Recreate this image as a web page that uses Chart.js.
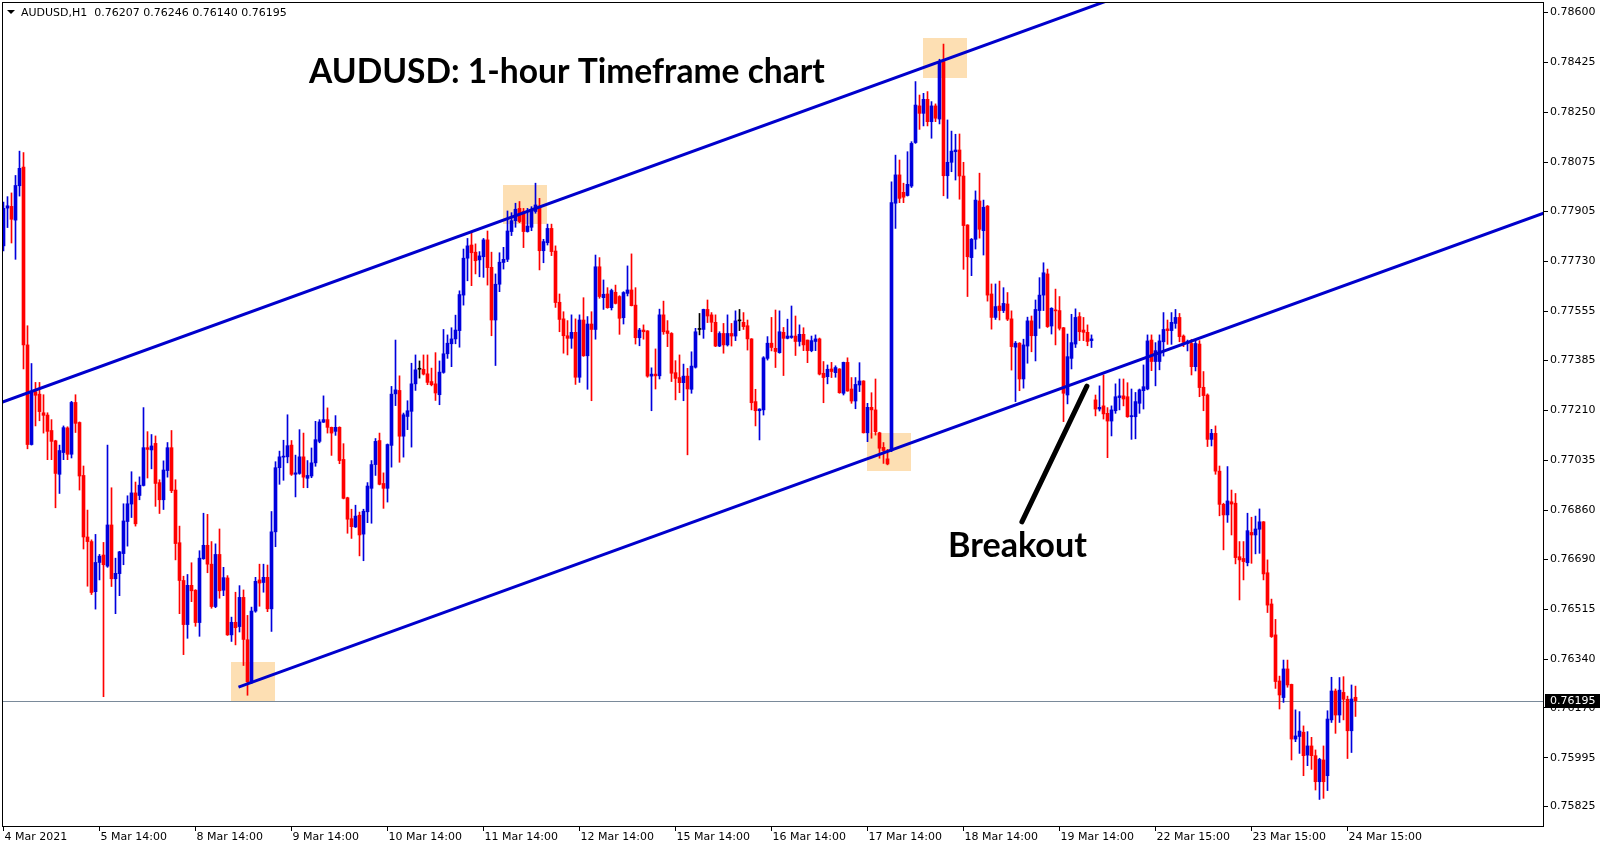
<!DOCTYPE html>
<html><head><meta charset="utf-8">
<script src="https://cdn.jsdelivr.net/npm/chart.js@4.4.0/dist/chart.umd.min.js"></script>
<style>html,body{margin:0;padding:0;background:#fff;overflow:hidden}canvas{display:block}</style>
</head><body>
<canvas id="c" width="1607" height="850"></canvas>
<script>
// ---- hourly candles, bar index 0 = 4 Mar 2021 14:00 ----
const opens = [
0.77784,0.77916,0.77922,0.77874,0.77994,0.78059,0.77438,0.77090,0.77275,0.77266,
0.77201,0.77193,0.77139,0.77103,0.76986,0.77062,0.77148,0.77056,0.77237,0.77167,
0.76982,0.76767,0.76751,0.76576,0.76678,0.76704,0.76665,0.76809,0.76621,0.76639,
0.76709,0.76821,0.76882,0.76921,0.76912,0.76947,0.77079,0.77071,0.77094,0.76957,
0.76897,0.76999,0.77079,0.76931,0.76747,0.76615,0.76461,0.76598,0.76581,0.76468,
0.76691,0.76738,0.76672,0.76524,0.76706,0.76581,0.76624,0.76425,0.76469,0.76454,
0.76556,0.76408,0.76261,0.76508,0.76617,0.76608,0.76626,0.76516,0.76785,0.77009,
0.77046,0.77047,0.77088,0.76986,0.76989,0.77047,0.76972,0.76980,0.77026,0.77101,
0.77168,0.77177,0.77150,0.77136,0.77150,0.77038,0.76904,0.76831,0.76802,0.76843,
0.76777,0.76855,0.76937,0.77020,0.77104,0.76954,0.76937,0.77087,0.77267,0.77279,
0.77119,0.77188,0.77206,0.77302,0.77353,0.77353,0.77337,0.77310,0.77302,0.77264,
0.77342,0.77407,0.77442,0.77459,0.77488,0.77612,0.77741,0.77787,0.77762,0.77735,
0.77746,0.77805,0.77709,0.77525,0.77650,0.77726,0.77737,0.77834,0.77872,0.77915,
0.77904,0.77834,0.77849,0.77904,0.77923,0.77767,0.77795,0.77845,0.77766,0.77587,
0.77529,0.77470,0.77461,0.77482,0.77325,0.77525,0.77400,0.77511,0.77492,0.77711,
0.77603,0.77616,0.77568,0.77622,0.77607,0.77533,0.77618,0.77630,0.77577,0.77463,
0.77490,0.77487,0.77329,0.77336,0.77330,0.77543,0.77487,0.77478,0.77341,0.77324,
0.77306,0.77329,0.77283,0.77360,0.77492,0.77492,0.77562,0.77543,0.77517,0.77434,
0.77478,0.77438,0.77478,0.77469,0.77522,0.77517,0.77505,0.77459,0.77240,0.77208,
0.77211,0.77391,0.77444,0.77426,0.77411,0.77482,0.77461,0.77464,0.77469,0.77450,
0.77475,0.77455,0.77418,0.77450,0.77459,0.77339,0.77327,0.77354,0.77341,0.77354,
0.77269,0.77377,0.77284,0.77242,0.77298,0.77312,0.77131,0.77220,0.77211,0.77131,
0.77080,0.77040,0.77069,0.77933,0.78032,0.77971,0.77960,0.77993,0.78145,0.78273,
0.78247,0.78296,0.78218,0.78273,0.78227,0.78428,0.78029,0.78076,0.78113,0.78119,
0.78028,0.77857,0.77743,0.77807,0.77941,0.77837,0.77923,0.77616,0.77534,0.77574,
0.77558,0.77581,0.77529,0.77430,0.77444,0.77319,0.77434,0.77522,0.77470,0.77558,
0.77612,0.77686,0.77504,0.77560,0.77558,0.77498,0.77263,0.77391,0.77441,0.77537,
0.77490,0.77482,0.77453,0.77246,0.77214,0.77225,0.77199,0.77172,0.77208,0.77254,
0.77260,0.77257,0.77187,0.77187,0.77234,0.77278,0.77284,0.77455,0.77380,0.77380,
0.77449,0.77494,0.77488,0.77513,0.77534,0.77469,0.77443,0.77443,0.77362,0.77441,
0.77290,0.77263,0.77108,0.77129,0.76997,0.76881,0.76844,0.76890,0.76885,0.76698,
0.76692,0.76677,0.76783,0.76774,0.76794,0.76820,0.76642,0.76533,0.76425,0.76264,
0.76206,0.76306,0.76252,0.76061,0.76070,0.76085,0.76005,0.76037,0.76003,0.75912,
0.75988,0.75933,0.76128,0.76229,0.76145,0.76224,0.76200,0.76090,0.76207];
const highs = [
0.77937,0.77956,0.77969,0.78030,0.78115,0.78110,0.77505,0.77373,0.77307,0.77307,
0.77264,0.77201,0.77177,0.77105,0.77088,0.77155,0.77152,0.77241,0.77264,0.77169,
0.77015,0.76861,0.76757,0.76776,0.76706,0.76748,0.77088,0.76939,0.76693,0.76717,
0.76883,0.76911,0.76995,0.76959,0.76977,0.77219,0.77135,0.77125,0.77120,0.76967,
0.77033,0.77097,0.77139,0.76967,0.76805,0.76630,0.76636,0.76677,0.76583,0.76719,
0.76850,0.76846,0.76751,0.76743,0.76795,0.76661,0.76632,0.76487,0.76574,0.76597,
0.76582,0.76493,0.76522,0.76626,0.76672,0.76672,0.76669,0.76856,0.77030,0.77067,
0.77105,0.77194,0.77104,0.77053,0.77142,0.77130,0.77034,0.77078,0.77171,0.77177,
0.77260,0.77218,0.77151,0.77191,0.77152,0.77093,0.76906,0.76864,0.76878,0.76854,
0.76864,0.76957,0.77034,0.77111,0.77130,0.76991,0.77092,0.77293,0.77455,0.77330,
0.77200,0.77243,0.77374,0.77403,0.77382,0.77403,0.77403,0.77357,0.77411,0.77382,
0.77492,0.77473,0.77498,0.77542,0.77627,0.77773,0.77810,0.77834,0.77791,0.77764,
0.77810,0.77836,0.77762,0.77686,0.77760,0.77779,0.77906,0.77900,0.77933,0.77939,
0.77915,0.77915,0.77921,0.78003,0.77950,0.77807,0.77860,0.77860,0.77784,0.77616,
0.77554,0.77523,0.77543,0.77529,0.77543,0.77603,0.77537,0.77554,0.77752,0.77743,
0.77665,0.77638,0.77633,0.77647,0.77610,0.77624,0.77714,0.77756,0.77638,0.77496,
0.77508,0.77488,0.77358,0.77424,0.77563,0.77591,0.77523,0.77481,0.77383,0.77403,
0.77371,0.77356,0.77414,0.77496,0.77548,0.77563,0.77595,0.77551,0.77543,0.77484,
0.77513,0.77543,0.77513,0.77557,0.77562,0.77551,0.77525,0.77460,0.77283,0.77215,
0.77397,0.77467,0.77534,0.77560,0.77557,0.77499,0.77528,0.77574,0.77539,0.77508,
0.77498,0.77455,0.77469,0.77473,0.77462,0.77380,0.77368,0.77377,0.77365,0.77355,
0.77378,0.77393,0.77324,0.77324,0.77376,0.77313,0.77234,0.77271,0.77319,0.77133,
0.77097,0.77073,0.78008,0.78101,0.78084,0.78003,0.78113,0.78148,0.78358,0.78311,
0.78317,0.78323,0.78288,0.78280,0.78436,0.78489,0.78224,0.78185,0.78174,0.78175,
0.78076,0.77858,0.77810,0.77976,0.78038,0.77944,0.77925,0.77651,0.77651,0.77661,
0.77638,0.77621,0.77557,0.77450,0.77446,0.77458,0.77535,0.77539,0.77595,0.77673,
0.77725,0.77703,0.77568,0.77633,0.77607,0.77499,0.77476,0.77545,0.77564,0.77551,
0.77534,0.77508,0.77473,0.77263,0.77295,0.77333,0.77219,0.77225,0.77302,0.77319,
0.77319,0.77306,0.77284,0.77272,0.77284,0.77368,0.77473,0.77473,0.77446,0.77473,
0.77551,0.77525,0.77551,0.77562,0.77548,0.77473,0.77455,0.77457,0.77455,0.77453,
0.77345,0.77267,0.77143,0.77155,0.77015,0.76885,0.77013,0.76931,0.76919,0.76751,
0.76751,0.76850,0.76836,0.76840,0.76865,0.76821,0.76687,0.76550,0.76479,0.76281,
0.76337,0.76337,0.76253,0.76163,0.76157,0.76107,0.76087,0.76067,0.76023,0.75994,
0.76037,0.76160,0.76277,0.76236,0.76276,0.76279,0.76211,0.76250,0.76246];
const lows = [
0.77766,0.77848,0.77794,0.77737,0.77958,0.77354,0.77075,0.77088,0.77155,0.77173,
0.77130,0.77037,0.77037,0.76869,0.76919,0.77037,0.77037,0.77043,0.77132,0.76931,
0.76725,0.76595,0.76566,0.76515,0.76617,0.76209,0.76661,0.76594,0.76499,0.76562,
0.76670,0.76735,0.76835,0.76805,0.76897,0.76945,0.76973,0.77005,0.76874,0.76849,
0.76863,0.76976,0.76922,0.76687,0.76499,0.76356,0.76413,0.76541,0.76455,0.76420,
0.76689,0.76642,0.76518,0.76520,0.76553,0.76562,0.76423,0.76402,0.76390,0.76435,
0.76318,0.76214,0.76255,0.76504,0.76525,0.76574,0.76506,0.76437,0.76733,0.76951,
0.76965,0.77026,0.76982,0.76907,0.76986,0.76939,0.76939,0.76974,0.77014,0.77096,
0.77167,0.77130,0.77052,0.77122,0.77023,0.76900,0.76780,0.76762,0.76800,0.76701,
0.76684,0.76817,0.76815,0.76982,0.76949,0.76867,0.76889,0.77011,0.77226,0.77028,
0.77046,0.77142,0.77081,0.77279,0.77322,0.77333,0.77299,0.77295,0.77244,0.77229,
0.77339,0.77391,0.77362,0.77442,0.77430,0.77577,0.77662,0.77645,0.77686,0.77676,
0.77674,0.77647,0.77470,0.77366,0.77624,0.77703,0.77729,0.77820,0.77849,0.77865,
0.77778,0.77832,0.77837,0.77898,0.77700,0.77725,0.77787,0.77750,0.77569,0.77484,
0.77409,0.77403,0.77426,0.77300,0.77307,0.77398,0.77283,0.77243,0.77458,0.77601,
0.77562,0.77566,0.77560,0.77581,0.77475,0.77511,0.77609,0.77574,0.77441,0.77435,
0.77458,0.77325,0.77208,0.77284,0.77319,0.77475,0.77432,0.77310,0.77246,0.77271,
0.77243,0.77054,0.77269,0.77357,0.77473,0.77461,0.77516,0.77484,0.77432,0.77432,
0.77409,0.77434,0.77434,0.77453,0.77488,0.77492,0.77420,0.77211,0.77155,0.77106,
0.77193,0.77385,0.77417,0.77359,0.77409,0.77331,0.77459,0.77461,0.77401,0.77434,
0.77418,0.77376,0.77414,0.77418,0.77333,0.77236,0.77302,0.77324,0.77325,0.77269,
0.77263,0.77276,0.77234,0.77215,0.77275,0.77130,0.77100,0.77112,0.77123,0.77042,
0.77024,0.77019,0.77065,0.77845,0.77935,0.77935,0.77958,0.77988,0.78142,0.78191,
0.78203,0.78203,0.78160,0.78218,0.78210,0.77959,0.77950,0.78043,0.78014,0.77947,
0.77702,0.77607,0.77680,0.77773,0.77811,0.77752,0.77591,0.77493,0.77527,0.77525,
0.77551,0.77523,0.77350,0.77240,0.77278,0.77287,0.77374,0.77414,0.77382,0.77496,
0.77558,0.77499,0.77476,0.77438,0.77490,0.77170,0.77232,0.77354,0.77429,0.77453,
0.77453,0.77435,0.77429,0.77190,0.77207,0.77179,0.77044,0.77120,0.77199,0.77211,
0.77225,0.77185,0.77108,0.77110,0.77199,0.77214,0.77281,0.77348,0.77295,0.77351,
0.77399,0.77440,0.77440,0.77496,0.77449,0.77432,0.77417,0.77333,0.77347,0.77257,
0.77208,0.77083,0.77085,0.76986,0.76841,0.76722,0.76818,0.76774,0.76673,0.76547,
0.76617,0.76666,0.76675,0.76708,0.76710,0.76617,0.76503,0.76416,0.76238,0.76166,
0.76189,0.76242,0.75988,0.76052,0.76011,0.75933,0.75968,0.75955,0.75883,0.75850,
0.75854,0.75881,0.76119,0.76081,0.76119,0.76128,0.75993,0.76014,0.76140];
const closes = [
0.77915,0.77924,0.77877,0.77995,0.78055,0.77438,0.77090,0.77273,0.77262,0.77205,
0.77192,0.77136,0.77101,0.76989,0.77069,0.77149,0.77056,0.77237,0.77164,0.76980,
0.76767,0.76751,0.76573,0.76678,0.76700,0.76670,0.76809,0.76621,0.76640,0.76715,
0.76823,0.76883,0.76921,0.76813,0.76948,0.77079,0.77073,0.77085,0.76954,0.76897,
0.77001,0.77079,0.76929,0.76744,0.76615,0.76461,0.76598,0.76579,0.76468,0.76693,
0.76738,0.76672,0.76524,0.76706,0.76579,0.76625,0.76425,0.76469,0.76450,0.76556,
0.76409,0.76261,0.76508,0.76612,0.76606,0.76626,0.76516,0.76785,0.77009,0.77047,
0.77049,0.77086,0.76986,0.76991,0.77047,0.76976,0.76982,0.77026,0.77107,0.77169,
0.77177,0.77150,0.77130,0.77150,0.77034,0.76902,0.76829,0.76803,0.76840,0.76774,
0.76857,0.76945,0.77020,0.77101,0.76951,0.76937,0.77090,0.77266,0.77281,0.77119,
0.77194,0.77208,0.77302,0.77351,0.77353,0.77336,0.77307,0.77299,0.77270,0.77343,
0.77407,0.77444,0.77459,0.77490,0.77614,0.77741,0.77784,0.77760,0.77732,0.77749,
0.77805,0.77708,0.77525,0.77650,0.77727,0.77737,0.77836,0.77872,0.77912,0.77869,
0.77834,0.77853,0.77912,0.77927,0.77767,0.77799,0.77845,0.77764,0.77586,0.77527,
0.77470,0.77461,0.77482,0.77325,0.77525,0.77400,0.77511,0.77492,0.77711,0.77607,
0.77615,0.77568,0.77628,0.77583,0.77531,0.77621,0.77630,0.77575,0.77463,0.77490,
0.77484,0.77329,0.77336,0.77330,0.77543,0.77484,0.77478,0.77339,0.77321,0.77306,
0.77329,0.77284,0.77364,0.77484,0.77492,0.77562,0.77539,0.77517,0.77434,0.77478,
0.77438,0.77478,0.77469,0.77522,0.77522,0.77502,0.77459,0.77236,0.77208,0.77214,
0.77393,0.77444,0.77429,0.77415,0.77484,0.77461,0.77469,0.77469,0.77450,0.77475,
0.77438,0.77418,0.77453,0.77459,0.77336,0.77324,0.77353,0.77345,0.77359,0.77271,
0.77377,0.77277,0.77242,0.77300,0.77312,0.77131,0.77220,0.77211,0.77135,0.77077,
0.77069,0.77022,0.77935,0.78032,0.77950,0.77954,0.77999,0.78142,0.78276,0.78247,
0.78296,0.78218,0.78273,0.78230,0.78428,0.78029,0.78076,0.78115,0.78119,0.78028,
0.77855,0.77746,0.77807,0.77944,0.77842,0.77919,0.77612,0.77534,0.77572,0.77558,
0.77583,0.77528,0.77432,0.77444,0.77319,0.77438,0.77522,0.77470,0.77562,0.77612,
0.77690,0.77502,0.77566,0.77557,0.77496,0.77269,0.77397,0.77446,0.77534,0.77484,
0.77482,0.77450,0.77459,0.77214,0.77220,0.77197,0.77172,0.77211,0.77257,0.77260,
0.77249,0.77187,0.77191,0.77240,0.77281,0.77292,0.77452,0.77380,0.77418,0.77452,
0.77492,0.77488,0.77517,0.77534,0.77467,0.77447,0.77449,0.77362,0.77443,0.77289,
0.77261,0.77108,0.77129,0.76997,0.76881,0.76844,0.76893,0.76882,0.76695,0.76687,
0.76681,0.76789,0.76774,0.76795,0.76820,0.76638,0.76529,0.76419,0.76262,0.76215,
0.76306,0.76250,0.76061,0.76072,0.76089,0.76003,0.76037,0.76003,0.75912,0.75990,
0.75912,0.76131,0.76229,0.76145,0.76232,0.76200,0.76090,0.76201,0.76195];

const xTickBars = [0,24,48,72,96,120,144,168,192,216,240,264,288,312,336];
const xTickLabels = ['4 Mar 2021','5 Mar 14:00','8 Mar 14:00','9 Mar 14:00','10 Mar 14:00','11 Mar 14:00','12 Mar 14:00','15 Mar 14:00','16 Mar 14:00','17 Mar 14:00','18 Mar 14:00','19 Mar 14:00','22 Mar 15:00','23 Mar 15:00','24 Mar 15:00'];
const yTickLabels = ['0.78600','0.78425','0.78250','0.78075','0.77905','0.77730','0.77555','0.77385','0.77210','0.77035','0.76860','0.76690','0.76515','0.76340','0.76170','0.75995','0.75825'];

// trend channel anchors (bar index, price)
const upperChannel = [{x:-1, y:0.772346},{x:280, y:0.786609}];
const lowerChannel = [{x:58.75, y:0.762422},{x:386, y:0.779032}];
const breakoutPointer = [{x:254.6, y:0.76820},{x:270.85, y:0.77294}];
// highlighted touch zones (bar range, price range)
const zoneX0 = [229.9, 124.9, 215.9, 56.9];
const zoneX1 = [240.9, 135.9, 226.9, 67.9];
const zoneLo = [0.78370, 0.77860, 0.76998, 0.76194];
const zoneHi = [0.78510, 0.77997, 0.77130, 0.76330];

const lastPrice = 0.76195;
const headerText = 'AUDUSD,H1  0.76207 0.76246 0.76140 0.76195';
const titleText = 'AUDUSD: 1-hour Timeframe chart';
const noteText = 'Breakout';

const UP = '#0000dd', DOWN = '#ff0000', DOJI = '#000000', LINE = '#0000cc';
const idx = opens.map((_, i) => i);
const colorOf = i => closes[i] > opens[i] ? UP : (closes[i] < opens[i] ? DOWN : DOJI);
const FONT = 'DejaVu Sans';

const decor = {
  id: 'decor',
  beforeDatasetsDraw(chart) {
    const {ctx, chartArea: a, scales: {x, y}} = chart;
    ctx.save();
    ctx.beginPath(); ctx.rect(a.left, a.top, a.right - a.left, a.bottom - a.top); ctx.clip();
    ctx.fillStyle = '#fddfb3';
    for (let k = 0; k < zoneX0.length; k++) {
      const x0 = x.getPixelForValue(zoneX0[k]), x1 = x.getPixelForValue(zoneX1[k]);
      const y0 = y.getPixelForValue(zoneHi[k]), y1 = y.getPixelForValue(zoneLo[k]);
      ctx.fillRect(Math.round(x0), Math.round(y0), Math.round(x1 - x0), Math.round(y1 - y0));
    }
    const py = Math.round(y.getPixelForValue(lastPrice)) + 0.5;
    ctx.strokeStyle = '#7a8a9a'; ctx.lineWidth = 1;
    ctx.beginPath(); ctx.moveTo(a.left, py); ctx.lineTo(a.right, py); ctx.stroke();
    ctx.restore();
  },
  afterDraw(chart) {
    const {ctx, chartArea: a, scales: {y}} = chart;
    ctx.save();
    // frame
    ctx.strokeStyle = '#000'; ctx.lineWidth = 1;
    ctx.strokeRect(a.left - 0.5, a.top - 0.5, a.right - a.left + 1, a.bottom - a.top + 1);
    // header
    ctx.fillStyle = '#000';
    ctx.beginPath(); ctx.moveTo(7, 10); ctx.lineTo(15, 10); ctx.lineTo(11, 14); ctx.closePath(); ctx.fill();
    ctx.font = '11px "' + FONT + '"'; ctx.textBaseline = 'middle'; ctx.textAlign = 'left';
    ctx.fillText(headerText, 21, 13);
    // title
    ctx.textBaseline = 'alphabetic';
    ctx.font = 'bold 100px Lato';
    let w = ctx.measureText(titleText).width;
    ctx.font = 'bold ' + (100 * 516 / w).toFixed(2) + 'px Lato';
    ctx.fillText(titleText, 309, 83);
    ctx.font = 'bold 100px Lato';
    w = ctx.measureText(noteText).width;
    ctx.font = 'bold ' + (100 * 139 / w).toFixed(2) + 'px Lato';
    ctx.fillText(noteText, 948, 557);
    // last price tag
    const py = Math.round(y.getPixelForValue(lastPrice));
    ctx.fillStyle = '#000';
    ctx.fillRect(a.right + 2, py - 7, 55, 14);
    ctx.fillStyle = '#fff';
    ctx.font = '11px "' + FONT + '"'; ctx.textBaseline = 'middle';
    ctx.fillText(lastPrice.toFixed(5), a.right + 7, py + 0.5);
    ctx.restore();
  }
};

new Chart(document.getElementById('c'), {
  type: 'bar',
  data: {
    datasets: [
      {type: 'line', data: upperChannel, borderColor: LINE, borderWidth: 3, pointRadius: 0, fill: false, order: 0, clip: 0},
      {type: 'line', data: lowerChannel, borderColor: LINE, borderWidth: 3, pointRadius: 0, fill: false, order: 0, clip: 0},
      {type: 'line', data: breakoutPointer, borderColor: '#000', borderWidth: 5, borderCapStyle: 'round', pointRadius: 0, fill: false, order: 0, clip: 0},
      {type: 'bar', data: idx.map(i => ({x: i, y: [lows[i], highs[i]]})), backgroundColor: idx.map(colorOf), barThickness: 1, grouped: false, order: 2},
      {type: 'bar', data: idx.map(i => ({x: i, y: [opens[i], closes[i]]})), backgroundColor: idx.map(colorOf), barThickness: 3, minBarLength: 1, grouped: false, order: 1}
    ]
  },
  options: {
    responsive: false, animation: false, devicePixelRatio: 1,
    layout: {padding: {left: 3, top: 3, right: 0, bottom: 0}},
    plugins: {legend: {display: false}, tooltip: {enabled: false}},
    scales: {
      x: {
        type: 'linear', position: 'bottom', min: -0.125, max: 384.875, offset: false,
        afterBuildTicks: s => { s.ticks = xTickBars.map(v => ({value: v})); },
        afterFit: s => { s.height = 24; s.paddingLeft = 0; s.paddingRight = 0; },
        grid: {display: true, drawOnChartArea: false, drawTicks: true, tickLength: 5, color: '#000', offset: false},
        border: {display: false},
        ticks: {autoSkip: false, maxRotation: 0, minRotation: 0, align: 'start', labelOffset: 1, padding: 0,
                color: '#000', font: {family: FONT, size: 11}, callback: (v, i) => xTickLabels[i]}
      },
      y: {
        type: 'linear', position: 'right', min: 0.757573, max: 0.786325,
        afterBuildTicks: s => { s.ticks = yTickLabels.map(t => ({value: parseFloat(t)})); },
        afterFit: s => { s.width = 64; s.paddingTop = 0; s.paddingBottom = 0; },
        grid: {display: true, drawOnChartArea: false, drawTicks: true, tickLength: 5, color: '#000'},
        border: {display: false},
        ticks: {padding: 2, color: '#000', font: {family: FONT, size: 11}, callback: (v, i) => yTickLabels[i]}
      }
    }
  },
  plugins: [decor]
});
</script>
</body></html>
